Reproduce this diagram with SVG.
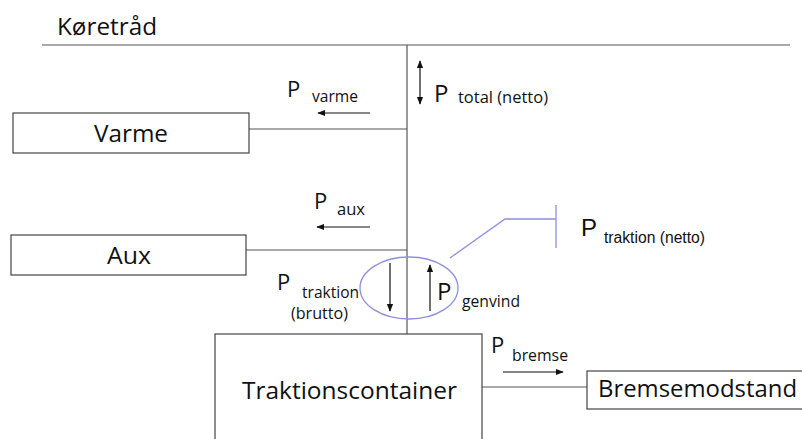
<svg xmlns="http://www.w3.org/2000/svg" width="802" height="439" viewBox="0 0 802 439">
<style>
text{font-family:"Open Sans","DejaVu Sans",sans-serif;fill:#111}
.box{fill:#fff;stroke:#444;stroke-width:1.2}
.ln{stroke:#555;stroke-width:1.2;fill:none}
.ar{stroke:#111;stroke-width:1.2;fill:none}
.lbl{font-size:24px}
.p{font-size:22px}
.pb{font-size:24px}
.sub{font-size:16px}
.arial{font-family:"Liberation Sans",Arial,sans-serif}
.blue{stroke:#8f8fdc;stroke-width:1.3;fill:none}
</style>
<defs>
<marker id="ah" viewBox="0 0 10 10" refX="9" refY="5" markerWidth="8" markerHeight="8" orient="auto-start-reverse" markerUnits="userSpaceOnUse">
<path d="M0,1 L10,5 L0,9 z" fill="#111"/>
</marker>
</defs>
<rect width="802" height="439" fill="#fff"/>
<text x="57" y="35" class="lbl" textLength="100" lengthAdjust="spacingAndGlyphs">Køretråd</text>
<g id="connectors">
<line class="ln" x1="42" y1="45" x2="790" y2="45"/>
<line class="ln" x1="407" y1="45" x2="407" y2="334"/>
<line class="ln" x1="249" y1="129" x2="407" y2="129"/>
<line class="ln" x1="246" y1="250" x2="407" y2="250"/>
<line class="ln" x1="482" y1="387" x2="587" y2="387"/>
<line class="ar" x1="420" y1="61" x2="420" y2="104" marker-start="url(#ah)" marker-end="url(#ah)"/>
<line class="ar" x1="370" y1="113" x2="318" y2="113" marker-end="url(#ah)"/>
<line class="ar" x1="370" y1="227" x2="317" y2="227" marker-end="url(#ah)"/>
<line class="ar" x1="390" y1="263" x2="390" y2="311" marker-end="url(#ah)"/>
<line class="ar" x1="430" y1="311" x2="430" y2="265" marker-end="url(#ah)"/>
<line class="ar" x1="503" y1="372" x2="563" y2="372" marker-end="url(#ah)"/>
<ellipse class="blue" cx="409" cy="288" rx="49" ry="31"/>
<polyline class="blue" points="450,258 505,219 556,219"/>
<line class="blue" x1="556" y1="205" x2="556" y2="248"/>
</g>
<g id="varme">
<rect class="box" x="13" y="113" width="236" height="40"/>
<text x="94" y="142" class="lbl" textLength="74" lengthAdjust="spacingAndGlyphs">Varme</text>
</g>
<g id="aux">
<rect class="box" x="11" y="235" width="235" height="40"/>
<text x="107" y="264" class="lbl" textLength="44" lengthAdjust="spacingAndGlyphs">Aux</text>
</g>
<g id="traktionscontainer">
<rect class="box" x="215" y="334" width="267" height="120"/>
<text x="242" y="399" class="lbl" textLength="215" lengthAdjust="spacingAndGlyphs">Traktionscontainer</text>
</g>
<g id="bremsemodstand">
<rect class="box" x="587" y="371" width="230" height="38"/>
<text x="598" y="397" class="lbl" textLength="199" lengthAdjust="spacingAndGlyphs">Bremsemodstand</text>
</g>
<g id="labels">
<text x="287" y="97" class="p">P</text>
<text x="312" y="102" class="sub" textLength="46" lengthAdjust="spacingAndGlyphs">varme</text>
<text x="434" y="102" class="pb">P</text>
<text x="458" y="103" class="sub" textLength="90" lengthAdjust="spacingAndGlyphs">total (netto)</text>
<text x="314" y="209" class="p">P</text>
<text x="337" y="215" class="sub" textLength="28" lengthAdjust="spacingAndGlyphs">aux</text>
<text x="277" y="290" class="p">P</text>
<text x="302" y="298" class="sub" font-size="15" textLength="57" lengthAdjust="spacingAndGlyphs">traktion</text>
<text x="291" y="319" class="sub" font-size="15" textLength="57" lengthAdjust="spacingAndGlyphs">(brutto)</text>
<text x="437" y="300" class="pb">P</text>
<text x="462" y="307" class="sub" textLength="58" lengthAdjust="spacingAndGlyphs">genvind</text>
<text x="581" y="236" class="pb arial">P</text>
<text x="604" y="243" class="sub arial" font-size="15" textLength="101" lengthAdjust="spacingAndGlyphs">traktion (netto)</text>
<text x="491" y="353" class="p">P</text>
<text x="512" y="361" class="sub" textLength="56" lengthAdjust="spacingAndGlyphs">bremse</text>
</g>
</svg>
